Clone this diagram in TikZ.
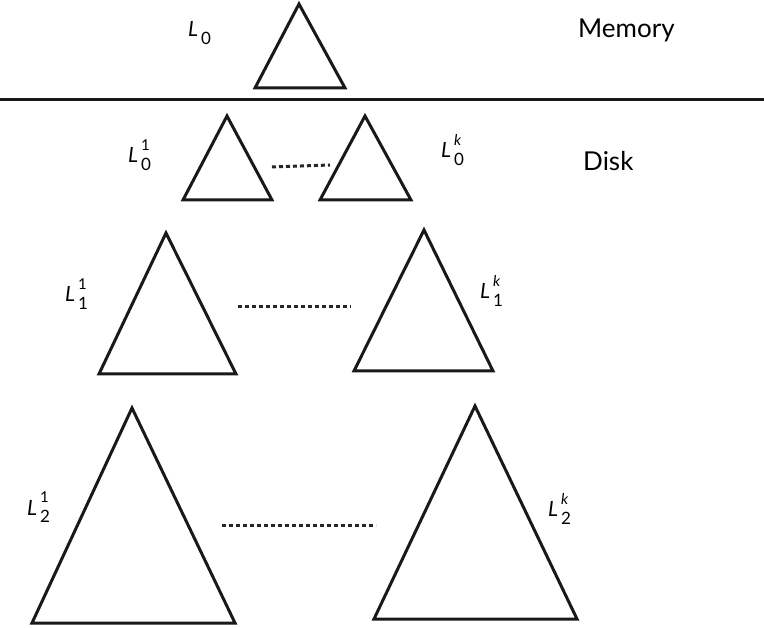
\documentclass[tikz,border=0pt]{standalone}
\usepackage{fontspec}
\setmainfont{Lato}
\newcommand{\Llab}[2]{{\itshape L}\kern3pt\rlap{\raisebox{-0.34em}{\fontsize{17}{17}\selectfont #1}}\raisebox{0.6em}{\fontsize{15}{15}\selectfont #2}}
\tikzset{
  tri/.style={draw=black!90, line width=3pt, line join=miter},
  dots/.style={draw=black!85, line width=3pt, dash pattern=on 4pt off 3pt},
  lab/.style={inner sep=0pt, anchor=base west, font=\fontsize{21}{21}\selectfont},
  word/.style={inner sep=0pt, anchor=base west, font=\fontsize{26}{26}\selectfont},
}
\begin{document}
\begin{tikzpicture}[x=1pt,y=-1pt]
\useasboundingbox (0,0) rectangle (764,628);
% memory / disk separator
\coordinate (sepL) at (0,100);
\coordinate (sepR) at (764,100);
\draw[line width=3pt, black!90] (sepL) -- (sepR);
% triangles
\draw[tri] (299,4) -- (345,88) -- (255,88) -- cycle;
\draw[tri] (227,116) -- (272,200) -- (183,200) -- cycle;
\draw[tri] (365,116) -- (411,200) -- (320,200) -- cycle;
\draw[tri] (166,233) -- (236,374) -- (99,374) -- cycle;
\draw[tri] (424,230) -- (493,371) -- (354,371) -- cycle;
\draw[tri] (132,408) -- (235,623) -- (32,623) -- cycle;
\draw[tri] (475,406) -- (577,619) -- (374,619) -- cycle;
% dotted connectors
\coordinate (d0a) at (272,167); \coordinate (d0b) at (330,165);
\coordinate (d1a) at (238,307); \coordinate (d1b) at (351,307);
\coordinate (d2a) at (222,526); \coordinate (d2b) at (376,526);
\draw[dots] (d0a) -- (d0b);
\draw[dots] (d1a) -- (d1b);
\draw[dots] (d2a) -- (d2b);
% labels
\node[lab] (l0) at (188,37) {\Llab{0}{}};
\node[lab] (l01) at (128,163) {\Llab{0}{1}};
\node[lab] (l0k) at (441,158) {\Llab{0}{\itshape k}};
\node[lab] (l11) at (65,302) {\Llab{1}{1}};
\node[lab] (l1k) at (480,299) {\Llab{1}{\itshape k}};
\node[lab] (l21) at (27,515) {\Llab{2}{1}};
\node[lab] (l2k) at (548,517) {\Llab{2}{\itshape k}};
\node[word] (mem) at (578,38) {Memory};
\node[word] (disk) at (583,171) {Disk};
\end{tikzpicture}
\end{document}
